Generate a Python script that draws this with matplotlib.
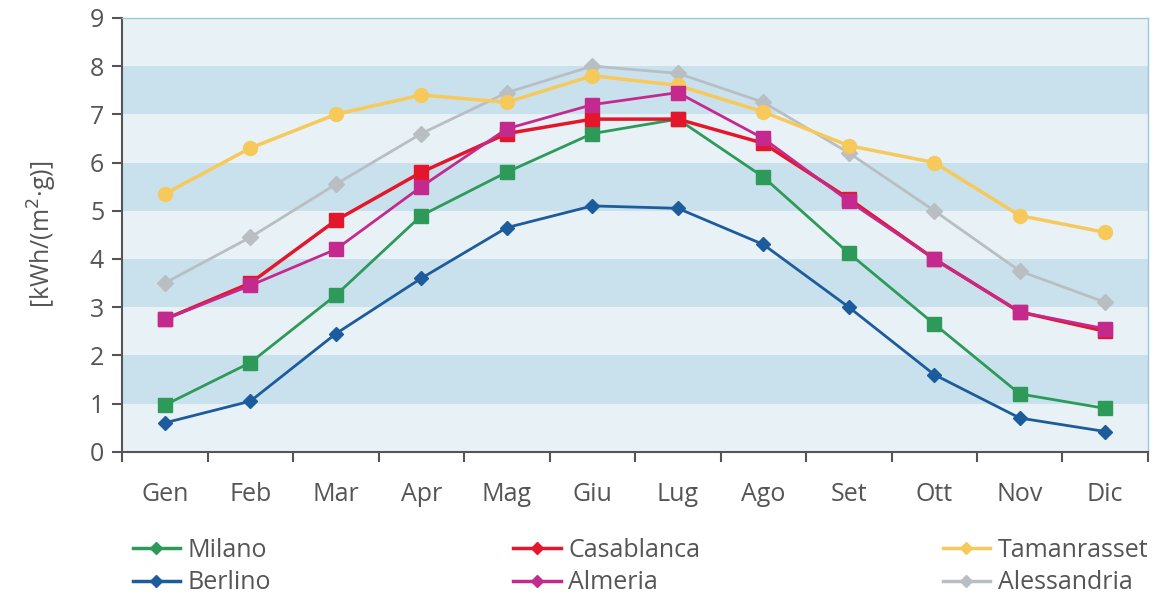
import matplotlib.pyplot as plt
from matplotlib.lines import Line2D
import numpy as np

# Monthly daily irradiation, kWh/(m2*g)
months = ["Gen", "Feb", "Mar", "Apr", "Mag", "Giu", "Lug", "Ago", "Set", "Ott", "Nov", "Dic"]
milano = [0.97, 1.85, 3.25, 4.9, 5.8, 6.6, 6.9, 5.7, 4.12, 2.65, 1.2, 0.9]
berlino = [0.6, 1.05, 2.45, 3.6, 4.65, 5.1, 5.05, 4.3, 3.0, 1.6, 0.7, 0.42]
casablanca = [2.75, 3.5, 4.8, 5.8, 6.6, 6.9, 6.9, 6.4, 5.25, 4.0, 2.9, 2.5]
almeria = [2.75, 3.45, 4.2, 5.5, 6.7, 7.2, 7.45, 6.5, 5.2, 4.0, 2.9, 2.55]
tamanrasset = [5.35, 6.3, 7.0, 7.4, 7.25, 7.8, 7.6, 7.05, 6.35, 6.0, 4.9, 4.55]
alessandria = [3.5, 4.45, 5.55, 6.6, 7.45, 8.0, 7.85, 7.25, 6.2, 5.0, 3.75, 3.1]

plt.rcParams["font.family"] = ["Open Sans", "DejaVu Sans"]

fig = plt.figure(figsize=(11.75, 5.96), dpi=100)
ax = fig.add_axes([0.104, 0.242, 0.873, 0.728])

# striped background
ax.set_facecolor("#e8f1f6")
for lo in range(1, 9, 2):
    ax.axhspan(lo, lo + 1, color="#c9e1ec", zorder=0, lw=0)

x = np.arange(len(months))
series = [
    ("Milano", milano, "#2e9a5a", "s", 2.0, 10),
    ("Berlino", berlino, "#1d5c9c", "D", 2.0, 7.5),
    ("Casablanca", casablanca, "#e3162b", "s", 2.5, 10),
    ("Almeria", almeria, "#c42a8e", "s", 2.0, 10),
    ("Tamanrasset", tamanrasset, "#f7c95a", "o", 2.5, 10),
    ("Alessandria", alessandria, "#b9bec3", "D", 2.0, 8.5),
]
# draw back-to-front like the original
for name, vals, col, mk, lw, ms in [series[5], series[4], series[1], series[0], series[2], series[3]]:
    ax.plot(x, vals, color=col, lw=lw, marker=mk, ms=ms, zorder=3)

ax.set_xlim(-0.5, len(months) - 0.5)
ax.set_ylim(0, 9)
ax.set_yticks(range(0, 10))
ax.set_xticks(np.arange(-0.5, len(months)), labels=[])
ax.set_xticks(x, labels=months, minor=True)
ax.tick_params(axis="x", which="major", length=7, width=1.5, color="#555555", direction="out")
ax.tick_params(axis="x", which="minor", length=0, labelsize=18, labelcolor="#555555", pad=22)
ax.tick_params(axis="y", length=7, width=1.5, color="#555555", labelsize=18, labelcolor="#555555", pad=6)

for s in ["left", "bottom"]:
    ax.spines[s].set_color("#555555")
    ax.spines[s].set_linewidth(1.5)
for s in ["top", "right"]:
    ax.spines[s].set_color("#9cc7d6")
    ax.spines[s].set_linewidth(1)

ax.set_ylabel("[kWh/(m$^2$·g)]", fontsize=18, color="#555555", labelpad=22)

# legend uses diamond markers for every city
order = [series[0], series[1], series[2], series[3], series[4], series[5]]
handles = [Line2D([], [], color=c, lw=2.5, marker="D", ms=6) for _, _, c, _, _, _ in order]
labels = [n for n, _, _, _, _, _ in order]
fig.legend(handles, labels, ncol=3, loc="lower left", bbox_to_anchor=(0.1, -0.024, 0.89, 0.14),
           mode="expand", frameon=False, fontsize=18, labelcolor="#555555",
           handlelength=1.9, handletextpad=0.3, labelspacing=0.3, borderaxespad=0.2)

fig.savefig("out.png", dpi=100, facecolor="white")
